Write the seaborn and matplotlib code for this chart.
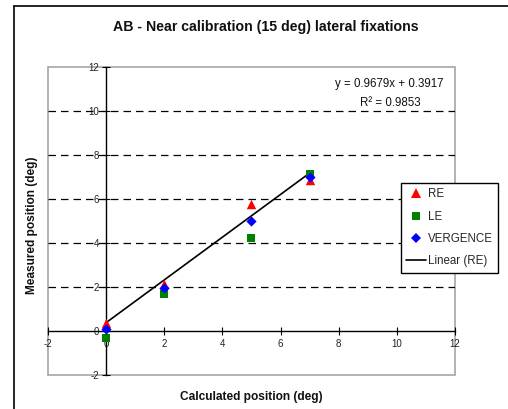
import numpy as np
import pandas as pd
import seaborn as sns
import matplotlib
matplotlib.use("Agg")
import matplotlib.pyplot as plt
from matplotlib.lines import Line2D
from matplotlib.patches import Rectangle

# ---- data ----
calc_pos = [0, 2, 5, 7]
re_vals = [0.37, 2.12, 5.78, 6.85]
le_vals = [-0.30, 1.70, 4.25, 7.15]
verg_vals = [0.10, 1.95, 5.00, 7.00]
series_names = ["RE", "LE", "VERGENCE"]
x_ticks = [-2, 0, 2, 4, 6, 8, 10, 12]
y_ticks = [-2, 0, 2, 4, 6, 8, 10, 12]
eq_text = "y = 0.9679x + 0.3917"
r2_text = "R² = 0.9853"

df = pd.DataFrame({
    "x": calc_pos * 3,
    "y": re_vals + le_vals + verg_vals,
    "series": [s for s in series_names for _ in calc_pos],
})

sns.set_theme(style="white")
plt.rcParams["font.family"] = ["Liberation Sans", "DejaVu Sans"]
plt.rcParams["axes.unicode_minus"] = False

W, H = 508, 409
fig = plt.figure(figsize=(W / 100, H / 100), dpi=100)
ax = fig.add_axes([48 / W, 1 - 375 / H, (455 - 48) / W, (375 - 67) / H])

colors = {"RE": "#FF0000", "LE": "#008000", "VERGENCE": "#0000FF"}
markers = {"RE": "^", "LE": "s", "VERGENCE": "D"}
sizes = {"RE": 46, "LE": 38, "VERGENCE": 27}

for s in series_names:
    sub = df[df.series == s]
    sns.scatterplot(data=sub, x="x", y="y", color=colors[s], marker=markers[s],
                    s=sizes[s], linewidth=0, ax=ax, zorder=4, legend=False)

sns.regplot(x=calc_pos, y=re_vals, scatter=False, ci=None, truncate=True,
            color="black", line_kws={"lw": 1.2, "zorder": 3}, ax=ax)

ax.set_xlim(-2, 12)
ax.set_ylim(-2, 12)
ax.set_xticks(x_ticks)
ax.set_yticks(y_ticks)
ax.set_xlabel("")
ax.set_ylabel("")

# dashed gridlines
for yv in y_ticks[2:-1]:
    ax.axhline(yv, color="black", lw=0.9, ls=(0, (6, 4)), zorder=1)

# spines crossing at zero
ax.spines["left"].set_position(("data", 0))
ax.spines["bottom"].set_position(("data", 0))
for sp in ["left", "bottom"]:
    ax.spines[sp].set_color("black")
    ax.spines[sp].set_linewidth(1.0)
    ax.spines[sp].set_zorder(2)
ax.spines["top"].set_visible(False)
ax.spines["right"].set_visible(False)
ax.add_patch(Rectangle((0, 0), 1, 1, transform=ax.transAxes, fill=False,
                       edgecolor="#a6a6a6", lw=1.2, zorder=0, clip_on=False))

ax.tick_params(axis="both", which="major", direction="inout", length=6, width=0.8,
               color="black", labelsize=7, labelcolor="#222222",
               bottom=True, left=True)
ax.tick_params(axis="x", pad=3)
ax.tick_params(axis="y", pad=2)

# equation text
fig.text(389 / W, 1 - 84 / H, eq_text, ha="center", va="center", fontsize=8.3, color="#111111")
fig.text(390 / W, 1 - 103 / H, r2_text, ha="center", va="center", fontsize=8.3, color="#111111")

# labels / title
fig.text(266 / W, 1 - 27 / H, "AB - Near calibration (15 deg) lateral fixations",
         ha="center", va="center", fontsize=10.2, fontweight="bold", color="#111111")
fig.text(251.5 / W, 1 - 397 / H, "Calculated position (deg)", ha="center", va="center",
         fontsize=8.6, fontweight="bold", color="#111111")
fig.text(32 / W, 1 - 225 / H, "Measured position (deg)", ha="center", va="center",
         rotation=90, fontsize=8.6, fontweight="bold", color="#111111")

# legend
handles = [
    Line2D([], [], ls="none", marker="^", color=colors["RE"], ms=6.8, mew=0),
    Line2D([], [], ls="none", marker="s", color=colors["LE"], ms=5.8, mew=0),
    Line2D([], [], ls="none", marker="D", color=colors["VERGENCE"], ms=5.0, mew=0),
    Line2D([], [], color="black", lw=1.2),
]
labels = ["RE", "LE", "VERGENCE", "Linear (RE)"]
leg = fig.legend(handles, labels, loc="upper left",
                 bbox_to_anchor=(401 / W, 1 - 183 / H), bbox_transform=fig.transFigure,
                 fontsize=8.3, frameon=True, fancybox=False, shadow=False,
                 borderaxespad=0, borderpad=0.45, labelspacing=0.9,
                 handlelength=1.75, handletextpad=0.15)
leg.get_frame().set_edgecolor("black")
leg.get_frame().set_linewidth(1.0)
leg.get_frame().set_facecolor("white")
leg.get_frame().set_alpha(1)

# outer chart border (partially cropped)
fig.add_artist(Line2D([14 / W, 14 / W], [0, 1 - 6 / H], transform=fig.transFigure,
                      color="black", lw=1.2))
fig.add_artist(Line2D([14 / W, 1], [1 - 6 / H, 1 - 6 / H], transform=fig.transFigure,
                      color="black", lw=1.2))

fig.savefig("out.png", dpi=100)
